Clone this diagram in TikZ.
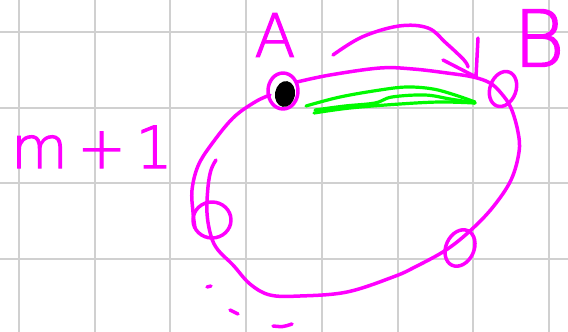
\documentclass[tikz,border=0pt]{standalone}
\usepackage{fontspec}
\newfontfamily\handfont{DejaVu Sans ExtraLight}[FakeBold=2]
\definecolor{pen}{RGB}{255,0,255}
\definecolor{marker}{RGB}{0,250,0}
\definecolor{gridgray}{RGB}{208,208,208}

\begin{document}
\begin{tikzpicture}[
  x=1pt, y=-1pt,
  ink/.style={draw=pen, line width=3.5pt, line cap=round, line join=round},
  hl/.style={draw=marker, line width=3.2pt, line cap=round, line join=round},
  gridline/.style={draw=gridgray, line width=2pt},
  hand/.style={text=pen, inner sep=0pt}
]
  \useasboundingbox (0,0) rectangle (568,332);
  \fill[white] (0,0) rectangle (568,332);
  \foreach \i in {0,...,7}
    \draw[gridline] ({19+75.7*\i},0) -- ({19+75.7*\i},332);
  \foreach \j in {0,...,3}
    \draw[gridline] (0,{32+75.5*\j}) -- (568,{32+75.5*\j});

  \node[hand, font={\handfont\fontsize{60}{60}\selectfont}] (lblA) at (275,35) {A};
  \node[hand, font={\handfont\fontsize{78}{78}\selectfont}] (lblB) at (539,38) {B};
  \node[hand, font={\handfont\fontsize{58}{58}\selectfont}, anchor=base west] (lblM) at (11,168) {m\,+\,1};

  \coordinate (tipB) at (476,77);

  \draw[ink] plot[smooth, tension=0.6] coordinates {(297,82) (330,75) (380,68) (413,69) (447,73) (473,77) (490,83) (501,93) (511,108) (518,132) (519,152) (511,180) (493,207) (471,230) (446,250) (415,267) (393,277) (347,292) (300,296) (270,295) (250,284) (233,265) (218,250) (211,236) (207,213) (208,187) (211,170) (216,160)};
  \draw[ink] plot[smooth, tension=0.6] coordinates {(270,95) (255,102) (233,118) (211,145) (198,166) (192,190) (193,212) (195,228)};

  \draw[ink] (283,91) ellipse[x radius=15, y radius=18];
  \draw[ink, rotate around={-20:(503,89)}] (503,89) ellipse[x radius=13, y radius=18];
  \draw[ink] (212,220) ellipse[x radius=19, y radius=18];
  \draw[ink, rotate around={-25:(460,248)}] (460,248) ellipse[x radius=14, y radius=19];
  \fill[black, rotate around={-10:(285,94)}] (285,94) ellipse[x radius=10, y radius=13];

  \draw[ink] plot[smooth, tension=0.6] coordinates {(333,55) (362,37) (399,26) (428,28) (446,43) (464,60) (468,67)};
  \draw[ink] (443,60) -- (tipB) -- (478,38);

  \draw[hl] plot[smooth, tension=0.6] coordinates {(306,106) (340,97) (380,90) (407,87) (433,89) (455,95) (475,102)};
  \draw[hl] plot[smooth, tension=0.6] coordinates {(315,110) (345,106) (375,103) (392,97) (425,95) (450,99) (475,103)};
  \draw[hl] plot[smooth, tension=0.6] coordinates {(314,113) (350,108) (400,104) (440,102) (475,103)};

  \draw[ink] (207,287) -- (211,286);
  \draw[ink] (230,310) -- (238,314);
  \draw[ink] (273,326) .. controls (283,327) .. (292,324);
\end{tikzpicture}
\end{document}
